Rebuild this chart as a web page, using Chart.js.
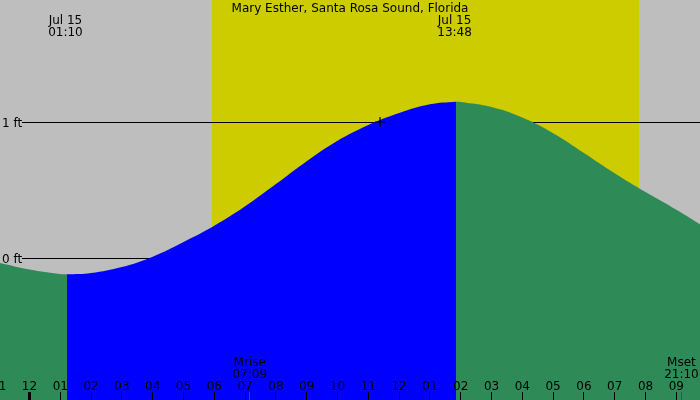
<!DOCTYPE html>
<html><head><meta charset="utf-8">
<script src="https://cdn.jsdelivr.net/npm/chart.js@4/dist/chart.umd.min.js"></script>
<style>html,body{margin:0;padding:0;background:#bebebe;overflow:hidden}#wrap{width:700px;height:400px}</style>
</head><body><div id="wrap"><canvas id="c" width="700" height="400"></canvas></div>
<script>
// ---- data ----
const chartTitle = "Mary Esther, Santa Rosa Sound, Florida";
// hours since midnight Jul 15
const tideTimes   = [-1, 0, 1, 1.2175, 2, 3, 4, 5, 6, 7, 8, 9, 10, 11, 12, 13, 13.847, 14, 15, 16, 17, 18, 19, 20, 21, 22];
const tideHeights = [-0.035, -0.085, -0.118, -0.12, -0.11, -0.066, 0.01, 0.118, 0.238, 0.381, 0.544, 0.712, 0.862, 0.978, 1.066, 1.13, 1.149, 1.147, 1.11, 1.033, 0.918, 0.773, 0.623, 0.485, 0.355, 0.215];
const risingStart = 1.2175;  // low tide (blue section start)
const risingEnd   = 13.847;  // high tide (blue section end)
const extremeTimes  = [1.167, 13.8];
const extremeDates  = ["Jul 15", "Jul 15"];
const extremeClock  = ["01:10", "13:48"];
const daylight = [5.92, 19.79];
const hourTicks  = [-1,0,1,2,3,4,5,6,7,8,9,10,11,12,13,14,15,16,17,18,19,20,21];
const hourLabels = ["11","12","01","02","03","04","05","06","07","08","09","10","11","12","01","02","03","04","05","06","07","08","09"];
const moonTimes  = [7.15, 21.167];
const moonNames  = ["Mrise", "Mset"];
const moonClock  = ["07:09", "21:10"];
const levelValues = [0, 1];
const levelLabels = ["0 ft", "1 ft"];
const crossTimes  = [11.38];
const crossLevels = [1];
const xRange = [-0.9578, 21.769];
const yRange = [-1.0441, 1.8971];

const FONT = '12px "DejaVu Sans"';
const GRAY = '#bebebe', YELLOW = '#cccc00', GREEN = '#2e8b57', BLUE = '#0000ff';

const decor = {
  id: 'decor',
  beforeDatasetsDraw(chart) {
    const {ctx, scales: {x, y}} = chart;
    ctx.save();
    ctx.fillStyle = GRAY;
    ctx.fillRect(0, 0, chart.width, chart.height);
    const d0 = x.getPixelForValue(daylight[0]), d1 = x.getPixelForValue(daylight[1]);
    ctx.fillStyle = YELLOW;
    ctx.fillRect(Math.round(d0), 0, Math.round(d1) - Math.round(d0), chart.height);
    ctx.fillStyle = '#000';
    ctx.font = FONT;
    ctx.textAlign = 'left';
    ctx.textBaseline = 'alphabetic';
    levelValues.forEach((v, i) => {
      const py = Math.round(y.getPixelForValue(v));
      ctx.fillRect(22, py, chart.width - 22, 1);
      ctx.fillText(levelLabels[i], 2, py + 4.5);
    });
    ctx.restore();
  },
  afterDatasetsDraw(chart) {
    const {ctx, scales: {x}} = chart;
    ctx.save();
    ctx.font = FONT;
    ctx.fillStyle = '#000';
    ctx.textAlign = 'center';
    ctx.textBaseline = 'alphabetic';
    ctx.fillText(chartTitle, 350, 12);
    extremeTimes.forEach((t, i) => {
      const px = x.getPixelForValue(t);
      ctx.fillText(extremeDates[i], px, 24);
      ctx.fillText(extremeClock[i], px, 36);
    });
    hourTicks.forEach((t, i) => {
      const px = x.getPixelForValue(t);
      ctx.fillText(hourLabels[i], px, 390);
      if (t === 0) ctx.fillRect(Math.round(px - 1.5), 392, 3, 8);
      else ctx.fillRect(Math.round(px - 0.5), 392, 1, 8);
    });
    moonTimes.forEach((t, i) => {
      const px = x.getPixelForValue(t);
      ctx.fillStyle = '#000';
      ctx.fillText(moonNames[i], px, 366);
      ctx.fillText(moonClock[i], px, 378);
      ctx.fillStyle = '#ff0000';
      ctx.fillRect(Math.round(px - 0.5), 392, 1, 8);
    });
    ctx.restore();
  }
};

const tidePoints = tideTimes.map((t, i) => ({x: t, y: tideHeights[i]}));
const crossPoints = crossTimes.map((t, i) => ({x: t, y: crossLevels[i]}));

new Chart(document.getElementById('c'), {
  type: 'line',
  data: {
    datasets: [
      {
        data: crossPoints, showLine: false, pointStyle: 'cross', pointRadius: 5,
        borderColor: '#000', backgroundColor: '#000', pointBorderWidth: 1.2
      },
      {
        data: tidePoints, fill: 'start', tension: 0.4,
        borderColor: 'rgba(0,0,0,0)', borderWidth: 0, pointRadius: 0,
        backgroundColor: GREEN,
        segment: {
          backgroundColor: c => (c.p0.parsed.x >= risingStart && c.p1.parsed.x <= risingEnd) ? BLUE : GREEN
        }
      }
    ]
  },
  options: {
    responsive: false, animation: false, events: [],
    layout: {padding: 0, autoPadding: false},
    plugins: {legend: {display: false}, tooltip: {enabled: false}, title: {display: false}},
    scales: {
      x: {type: 'linear', min: xRange[0], max: xRange[1], display: false},
      y: {type: 'linear', min: yRange[0], max: yRange[1], display: false}
    }
  },
  plugins: [decor]
});
</script>
</body></html>
